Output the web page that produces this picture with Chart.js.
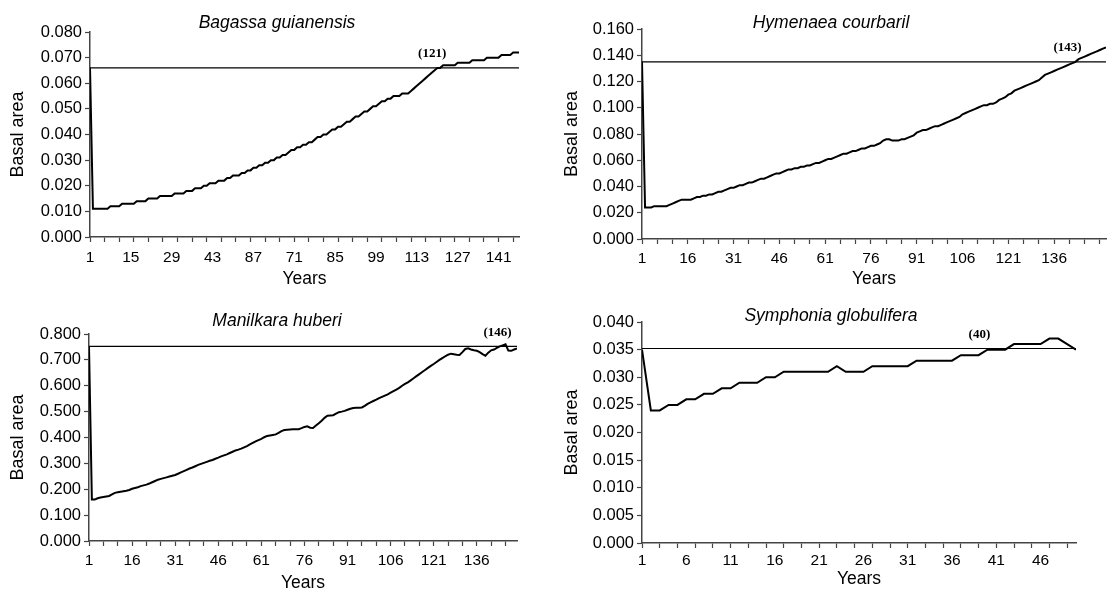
<!DOCTYPE html>
<html>
<head>
<meta charset="utf-8">
<title>Basal area</title>
<script src="https://cdn.jsdelivr.net/npm/chart.js@4.4.1/dist/chart.umd.min.js"></script>
<style>
  html, body { margin: 0; padding: 0; background: #fff; overflow: hidden; }
  .panel { position: absolute; width: 554px; height: 296px; }
</style>
</head>
<body>
<div class="panel" style="left:0;top:0"><canvas id="bagassa"></canvas></div>
<div class="panel" style="left:554px;top:0"><canvas id="hymenaea"></canvas></div>
<div class="panel" style="left:0;top:296px"><canvas id="manilkara"></canvas></div>
<div class="panel" style="left:554px;top:296px"><canvas id="symphonia"></canvas></div>
<script>
/*  Basal area recovery — four species  */

/* ====== DATA ====== */
// Bagassa guianensis, years 1..148
const bagassaValues = [
  0.066, 0.011, 0.011, 0.011, 0.011, 0.011, 0.011, 0.012, 0.012, 0.012,
  0.012, 0.013, 0.013, 0.013, 0.013, 0.013, 0.014, 0.014, 0.014, 0.014,
  0.015, 0.015, 0.015, 0.015, 0.016, 0.016, 0.016, 0.016, 0.016, 0.017,
  0.017, 0.017, 0.017, 0.018, 0.018, 0.018, 0.019, 0.019, 0.019, 0.020,
  0.020, 0.021, 0.021, 0.021, 0.022, 0.022, 0.022, 0.023, 0.023, 0.024,
  0.024, 0.024, 0.025, 0.025, 0.026, 0.026, 0.027, 0.027, 0.028, 0.028,
  0.029, 0.029, 0.030, 0.030, 0.031, 0.031, 0.032, 0.032, 0.033, 0.034,
  0.034, 0.035, 0.035, 0.036, 0.036, 0.037, 0.037, 0.038, 0.039, 0.039,
  0.040, 0.040, 0.041, 0.042, 0.042, 0.043, 0.043, 0.044, 0.045, 0.045,
  0.046, 0.047, 0.047, 0.048, 0.049, 0.049, 0.050, 0.051, 0.051, 0.052,
  0.053, 0.053, 0.054, 0.054, 0.055, 0.055, 0.055, 0.056, 0.056, 0.056,
  0.057, 0.058, 0.059, 0.060, 0.061, 0.062, 0.063, 0.064, 0.065, 0.066,
  0.066, 0.067, 0.067, 0.067, 0.067, 0.067, 0.068, 0.068, 0.068, 0.068,
  0.068, 0.069, 0.069, 0.069, 0.069, 0.069, 0.070, 0.070, 0.070, 0.070,
  0.070, 0.071, 0.071, 0.071, 0.071, 0.072, 0.072, 0.072
];
const bagassaThreshold = 0.066;
const bagassaMark = 121;
const bagassaYTicks = [0, 0.01, 0.02, 0.03, 0.04, 0.05, 0.06, 0.07, 0.08];
const bagassaLabelYears = [1, 15, 29, 43, 57, 71, 85, 99, 113, 127, 141];
const bagassaLabels = ["1", "15", "29", "43", "87", "71", "85", "99", "113", "127", "141"];

// Hymenaea courbaril, years 1..153
const hymenaeaValues = [
  0.135, 0.024, 0.024, 0.024, 0.025, 0.025, 0.025, 0.025, 0.025, 0.026,
  0.027, 0.028, 0.029, 0.030, 0.030, 0.030, 0.030, 0.031, 0.032, 0.032,
  0.033, 0.033, 0.034, 0.034, 0.035, 0.036, 0.036, 0.037, 0.038, 0.039,
  0.039, 0.040, 0.041, 0.041, 0.042, 0.043, 0.043, 0.044, 0.045, 0.046,
  0.046, 0.047, 0.048, 0.049, 0.050, 0.050, 0.051, 0.052, 0.053, 0.053,
  0.054, 0.054, 0.055, 0.055, 0.056, 0.056, 0.057, 0.058, 0.058, 0.059,
  0.060, 0.061, 0.061, 0.062, 0.063, 0.064, 0.065, 0.065, 0.066, 0.067,
  0.067, 0.068, 0.069, 0.069, 0.070, 0.071, 0.071, 0.072, 0.073, 0.075,
  0.076, 0.076, 0.075, 0.075, 0.075, 0.076, 0.076, 0.077, 0.078, 0.079,
  0.081, 0.082, 0.083, 0.083, 0.084, 0.085, 0.086, 0.086, 0.087, 0.088,
  0.089, 0.090, 0.091, 0.092, 0.093, 0.095, 0.096, 0.097, 0.098, 0.099,
  0.100, 0.101, 0.102, 0.102, 0.103, 0.103, 0.104, 0.106, 0.107, 0.108,
  0.110, 0.111, 0.113, 0.114, 0.115, 0.116, 0.117, 0.118, 0.119, 0.120,
  0.121, 0.123, 0.125, 0.126, 0.127, 0.128, 0.129, 0.130, 0.131, 0.132,
  0.133, 0.134, 0.135, 0.137, 0.138, 0.139, 0.140, 0.141, 0.142, 0.143,
  0.144, 0.145, 0.146
];
const hymenaeaThreshold = 0.135;
const hymenaeaMark = 143;
const hymenaeaYTicks = [0, 0.02, 0.04, 0.06, 0.08, 0.10, 0.12, 0.14, 0.16];
const hymenaeaLabelYears = [1, 16, 31, 46, 61, 76, 91, 106, 121, 136];
const hymenaeaLabels = ["1", "16", "31", "46", "61", "76", "91", "106", "121", "136"];

// Manilkara huberi, years 1..150
const manilkaraValues = [
  0.752, 0.160, 0.160, 0.165, 0.168, 0.170, 0.172, 0.174, 0.180, 0.186,
  0.188, 0.190, 0.192, 0.194, 0.197, 0.202, 0.205, 0.208, 0.212, 0.215,
  0.218, 0.222, 0.227, 0.232, 0.237, 0.240, 0.243, 0.246, 0.249, 0.252,
  0.255, 0.260, 0.265, 0.270, 0.275, 0.280, 0.284, 0.289, 0.294, 0.298,
  0.302, 0.306, 0.310, 0.313, 0.318, 0.322, 0.327, 0.331, 0.335, 0.340,
  0.345, 0.350, 0.353, 0.357, 0.362, 0.367, 0.373, 0.379, 0.385, 0.390,
  0.395, 0.401, 0.406, 0.408, 0.410, 0.412, 0.418, 0.425, 0.429, 0.430,
  0.431, 0.432, 0.432, 0.432, 0.436, 0.441, 0.443, 0.438, 0.437, 0.446,
  0.455, 0.465, 0.476, 0.484, 0.485, 0.486, 0.492, 0.498, 0.500, 0.503,
  0.507, 0.511, 0.514, 0.515, 0.515, 0.516, 0.522, 0.530, 0.536, 0.541,
  0.546, 0.552, 0.557, 0.562, 0.567, 0.573, 0.579, 0.585, 0.592, 0.600,
  0.607, 0.613, 0.621, 0.629, 0.637, 0.645, 0.653, 0.661, 0.669, 0.677,
  0.684, 0.692, 0.700, 0.707, 0.714, 0.720, 0.724, 0.722, 0.720, 0.719,
  0.730, 0.742, 0.745, 0.740, 0.737, 0.735, 0.730, 0.722, 0.716, 0.728,
  0.737, 0.740, 0.746, 0.752, 0.756, 0.760, 0.736, 0.735, 0.740, 0.744
];
const manilkaraThreshold = 0.752;
const manilkaraMark = 146;
const manilkaraYTicks = [0, 0.1, 0.2, 0.3, 0.4, 0.5, 0.6, 0.7, 0.8];
const manilkaraLabelYears = [1, 16, 31, 46, 61, 76, 91, 106, 121, 136];
const manilkaraLabels = ["1", "16", "31", "46", "61", "76", "91", "106", "121", "136"];

// Symphonia globulifera, years 1..50
const symphoniaValues = [
  0.035, 0.024, 0.024, 0.025, 0.025, 0.026, 0.026, 0.027, 0.027, 0.028,
  0.028, 0.029, 0.029, 0.029, 0.030, 0.030, 0.031, 0.031, 0.031, 0.031,
  0.031, 0.031, 0.032, 0.031, 0.031, 0.031, 0.032, 0.032, 0.032, 0.032,
  0.032, 0.033, 0.033, 0.033, 0.033, 0.033, 0.034, 0.034, 0.034, 0.035,
  0.035, 0.035, 0.036, 0.036, 0.036, 0.036, 0.037, 0.037, 0.036, 0.035
];
const symphoniaThreshold = 0.0352;
const symphoniaMark = 40;
const symphoniaYTicks = [0, 0.005, 0.01, 0.015, 0.02, 0.025, 0.03, 0.035, 0.04];
const symphoniaLabelYears = [1, 6, 11, 16, 21, 26, 31, 36, 41, 46];
const symphoniaLabels = ["1", "6", "11", "16", "21", "26", "31", "36", "41", "46"];

/* ====== DEFAULTS ====== */
Chart.defaults.font.family = "'Liberation Sans', Arial, sans-serif";
Chart.defaults.color = "#000";

var AXIS = "#444";

/* ====== TITLE + MARK PLUGIN ====== */
var panelText = {
    id: "panelText",
    afterDraw: function (chart, args, opts) {
        var ctx = chart.ctx;
        ctx.save();
        ctx.fillStyle = "#000";
        ctx.textAlign = "center";
        ctx.textBaseline = "middle";
        ctx.font = "italic 17.5px 'Liberation Sans', Arial, sans-serif";
        ctx.fillText(opts.title, chart.width / 2, opts.titleY);

        var x = chart.scales.x.getPixelForValue(opts.mark);
        var y = chart.scales.y.getPixelForValue(opts.threshold);
        ctx.font = "bold 13px 'Liberation Serif', 'Times New Roman', serif";
        ctx.fillText("(" + opts.mark + ")", x - 8, y - 14);
        ctx.restore();
    }
};

/* ====== BUILD ONE PANEL ====== */
function makePanel(id, p) {
    var n = p.values.length;
    var minor = [];
    for (var t = 1; t <= n; t += p.minorStep) minor.push(t);
    var allTicks = minor.concat(p.labelYears.filter(function (v) { return minor.indexOf(v) === -1; }))
        .sort(function (a, b) { return a - b; });

    new Chart(document.getElementById(id), {
        type: "line",
        data: {
            datasets: [
                {
                    data: p.values.map(function (v, i) { return { x: i + 1, y: v }; }),
                    borderColor: "#000", borderWidth: 2, pointRadius: 0, tension: 0
                },
                {
                    data: [{ x: 1, y: p.threshold }, { x: n, y: p.threshold }],
                    borderColor: "#000", borderWidth: 1.2, pointRadius: 0
                }
            ]
        },
        options: {
            responsive: true,
            maintainAspectRatio: false,
            animation: false,
            events: [],
            layout: { padding: { top: p.box.top, right: p.box.right, left: 0, bottom: 0 } },
            plugins: {
                legend: { display: false },
                tooltip: { enabled: false },
                panelText: { title: p.title, titleY: p.box.titleY, mark: p.mark, threshold: p.threshold }
            },
            scales: {
                x: {
                    type: "linear", min: 1, max: n,
                    afterBuildTicks: function (axis) {
                        axis.ticks = allTicks.map(function (v) { return { value: v }; });
                    },
                    afterFit: function (axis) { axis.height = p.box.xAxisH; },
                    border: { color: AXIS, width: 1.5 },
                    grid: {
                        drawOnChartArea: false, drawTicks: true, tickLength: 5, tickWidth: 1.2,
                        tickColor: function (c) {
                            return (c.tick && minor.indexOf(c.tick.value) !== -1) ? AXIS : "rgba(0,0,0,0)";
                        }
                    },
                    ticks: {
                        autoSkip: false, maxRotation: 0, padding: p.box.xTickPad,
                        font: { size: 15.5 },
                        callback: function (v) {
                            var k = p.labelYears.indexOf(v);
                            return k >= 0 ? p.labels[k] : "";
                        }
                    },
                    title: { display: true, text: "Years", font: { size: 17.5 }, padding: { top: 0, bottom: p.box.xTitlePad } }
                },
                y: {
                    min: 0, max: p.yTicks[p.yTicks.length - 1],
                    afterBuildTicks: function (axis) {
                        axis.ticks = p.yTicks.map(function (v) { return { value: v }; });
                    },
                    afterFit: function (axis) { axis.width = p.box.yAxisW; },
                    border: { color: AXIS, width: 1.5 },
                    grid: { drawOnChartArea: false, drawTicks: true, tickLength: 5, tickWidth: 1.2, color: AXIS },
                    ticks: {
                        padding: 3, font: { size: 16.5 },
                        callback: function (v) { return v.toFixed(3); }
                    },
                    title: { display: true, text: "Basal area", font: { size: 18 }, padding: { top: 7, bottom: 0 } }
                }
            }
        },
        plugins: [panelText]
    });
}

/* ====== START ====== */
makePanel("bagassa", {
    title: "Bagassa guianensis", values: bagassaValues, threshold: bagassaThreshold, mark: bagassaMark,
    yTicks: bagassaYTicks, labelYears: bagassaLabelYears, labels: bagassaLabels, minorStep: 5,
    box: { top: 32, right: 35, yAxisW: 90, xAxisH: 59, titleY: 23, xTickPad: 6, xTitlePad: 6 }
});
makePanel("hymenaea", {
    title: "Hymenaea courbaril", values: hymenaeaValues, threshold: hymenaeaThreshold, mark: hymenaeaMark,
    yTicks: hymenaeaYTicks, labelYears: hymenaeaLabelYears, labels: hymenaeaLabels, minorStep: 5,
    box: { top: 29, right: 2, yAxisW: 88, xAxisH: 57, titleY: 23, xTickPad: 5, xTitlePad: 6 }
});
makePanel("manilkara", {
    title: "Manilkara huberi", values: manilkaraValues, threshold: manilkaraThreshold, mark: manilkaraMark,
    yTicks: manilkaraYTicks, labelYears: manilkaraLabelYears, labels: manilkaraLabels, minorStep: 5,
    box: { top: 38, right: 37, yAxisW: 89, xAxisH: 51, titleY: 25, xTickPad: 5, xTitlePad: -2 }
});
makePanel("symphonia", {
    title: "Symphonia globulifera", values: symphoniaValues, threshold: symphoniaThreshold, mark: symphoniaMark,
    yTicks: symphoniaYTicks, labelYears: symphoniaLabelYears, labels: symphoniaLabels, minorStep: 2,
    box: { top: 26, right: 32, yAxisW: 88, xAxisH: 49, titleY: 20, xTickPad: 3, xTitlePad: 2 }
});
</script>
</body>
</html>
